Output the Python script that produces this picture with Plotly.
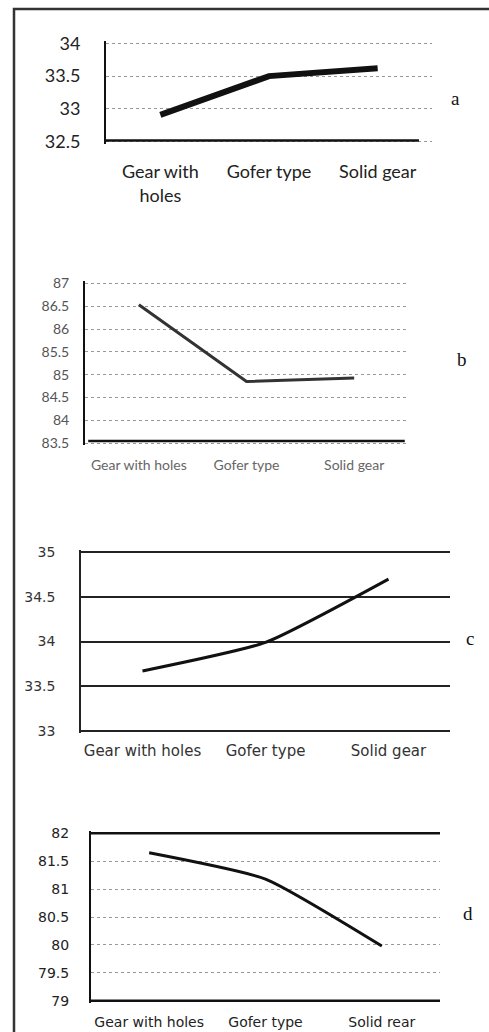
import plotly.graph_objects as go

categories = ["Gear with holes", "Gofer type", "Solid gear"]
labels_a = ["Gear with<br>holes", "Gofer type", "Solid gear"]
labels_d = ["Gear with holes", "Gofer type", "Solid rear"]

values_a = [32.91, 33.5, 33.62]
values_b = [86.53, 84.85, 84.93]
values_c = [33.67, 33.99, 34.70]
values_d = [81.65, 81.18, 79.98]

ticks_a = [32.5, 33, 33.5, 34]
ticks_b = [83.5, 84, 84.5, 85, 85.5, 86, 86.5, 87]
ticks_c = [33, 33.5, 34, 34.5, 35]
ticks_d = [79, 79.5, 80, 80.5, 81, 81.5, 82]

W, H = 489, 1032
PAD = 2.0

def px_x(a, b):
    return [a / W, b / W]

def px_y(top, bottom):
    return [1 - (bottom + PAD) / H, 1 - (top - PAD) / H]

fig = go.Figure()

panels = [
    dict(vals=values_a, ticks=ticks_a, xt=labels_a, xd=(106, 432), yd=(43.3, 141.7),
         rng=[32.5, 34], lw=6, color="#111", shape="linear",
         tfont=dict(family="Lato, Open Sans, sans-serif", size=18, color="#222"),
         xfont=dict(family="Lato, Open Sans, sans-serif", size=18, color="#222"),
         ystand=20, xstand=12, grid=dict(gridcolor="#999", griddash="dot", gridwidth=1),
         yline=dict(showline=True, linecolor="#111", linewidth=2),
         letter="a", lx=455, ly=99),
    dict(vals=values_b, ticks=ticks_b, xt=categories, xd=(85, 408), yd=(283.3, 443.3),
         rng=[83.5, 87], lw=3, color="#333", shape="linear",
         tfont=dict(family="Lato, Open Sans, sans-serif", size=14, color="#555"),
         xfont=dict(family="Lato, Open Sans, sans-serif", size=14, color="#666"),
         ystand=11, xstand=7, grid=dict(gridcolor="#999", griddash="dot", gridwidth=1),
         yline=dict(showline=True, linecolor="#111", linewidth=2),
         letter="b", lx=462, ly=360),
    dict(vals=values_c, ticks=ticks_c, xt=categories, xd=(81, 450), yd=(552.3, 730.7),
         rng=[33, 35], lw=3, color="#111", shape="spline",
         tfont=dict(family="DejaVu Sans, Verdana, sans-serif", size=14, color="#333"),
         xfont=dict(family="DejaVu Sans, Verdana, sans-serif", size=15, color="#333"),
         ystand=21, xstand=4, grid=dict(gridcolor="#222", griddash="solid", gridwidth=1.8),
         yline=dict(showline=True, linecolor="#222", linewidth=1.5),
         letter="c", lx=470, ly=638),
    dict(vals=values_d, ticks=ticks_d, xt=labels_d, xd=(91, 440), yd=(833.3, 1000.7),
         rng=[79, 82], lw=3, color="#111", shape="spline",
         tfont=dict(family="DejaVu Sans, Verdana, sans-serif", size=14, color="#222"),
         xfont=dict(family="DejaVu Sans, Verdana, sans-serif", size=14, color="#222"),
         ystand=17, xstand=6, grid=dict(gridcolor="#999", griddash="dot", gridwidth=1),
         yline=dict(showline=True, linecolor="#111", linewidth=2),
         letter="d", lx=468, ly=913),
]

for i, p in enumerate(panels, start=1):
    xa = "x" if i == 1 else f"x{i}"
    ya = "y" if i == 1 else f"y{i}"
    fig.add_trace(go.Scatter(
        x=categories, y=p["vals"], xaxis=xa, yaxis=ya, mode="lines",
        line=dict(color=p["color"], width=p["lw"], shape=p["shape"], smoothing=0.5),
        showlegend=False, hoverinfo="skip"))
    xkey = "xaxis" if i == 1 else f"xaxis{i}"
    ykey = "yaxis" if i == 1 else f"yaxis{i}"
    lo, hi = p["rng"]
    top, bot = p["yd"]
    eps = (hi - lo) * PAD / (bot - top)
    fig.layout[xkey] = dict(
        domain=px_x(*p["xd"]), anchor=ya, type="category",
        categoryorder="array", categoryarray=categories,
        range=[-0.5, 2.5], tickvals=categories, ticktext=p["xt"],
        showgrid=False, zeroline=False, showline=False, ticks="outside",
        ticklen=p["xstand"], tickcolor="rgba(0,0,0,0)", automargin=False,
        tickfont=p["xfont"], fixedrange=True)
    fig.layout[ykey] = dict(
        domain=px_y(top, bot), anchor=xa, range=[lo - eps, hi + eps],
        tickvals=p["ticks"], ticktext=[f"{t:g}" for t in p["ticks"]],
        showgrid=True, zeroline=False, ticks="outside",
        ticklen=p["ystand"], tickcolor="rgba(0,0,0,0)", automargin=False,
        tickfont=p["tfont"], fixedrange=True, **p["grid"], **p["yline"])
    fig.add_annotation(
        x=p["lx"] / W, y=1 - p["ly"] / H, xref="paper", yref="paper",
        text=p["letter"], showarrow=False,
        font=dict(family="Liberation Serif, Times New Roman, serif", size=19, color="#111"),
        xanchor="center", yanchor="middle")

# heavy frame lines of panel d at its top and bottom values
for v in (max(ticks_d), min(ticks_d)):
    fig.add_shape(type="line", xref="x4 domain", yref="y4", x0=0, x1=1, y0=v, y1=v,
                  line=dict(color="#111", width=2.5))
# heavy baseline of panel b, slightly above its lowest gridline
fig.add_shape(type="line", xref="x2 domain", yref="y2", x0=0.01, x1=0.99,
              y0=min(ticks_b) + 0.05, y1=min(ticks_b) + 0.05,
              line=dict(color="#111", width=2.5))
# baseline of panel a, slightly above its lowest gridline, shorter than gridlines
fig.add_shape(type="line", xref="x domain", yref="y", x0=0, x1=0.96,
              y0=min(ticks_a) + 0.02, y1=min(ticks_a) + 0.02,
              line=dict(color="#111", width=2.5))

fig.add_shape(type="rect", xref="paper", yref="paper",
              x0=14 / W, x1=1.02, y0=-0.02, y1=1 - 9 / H,
              line=dict(color="#333", width=2.5), fillcolor="rgba(0,0,0,0)")

fig.update_layout(
    width=W, height=H, margin=dict(l=0, r=0, t=0, b=0),
    paper_bgcolor="white", plot_bgcolor="white",
)

fig.write_html("out.html", config={"displayModeBar": False})
